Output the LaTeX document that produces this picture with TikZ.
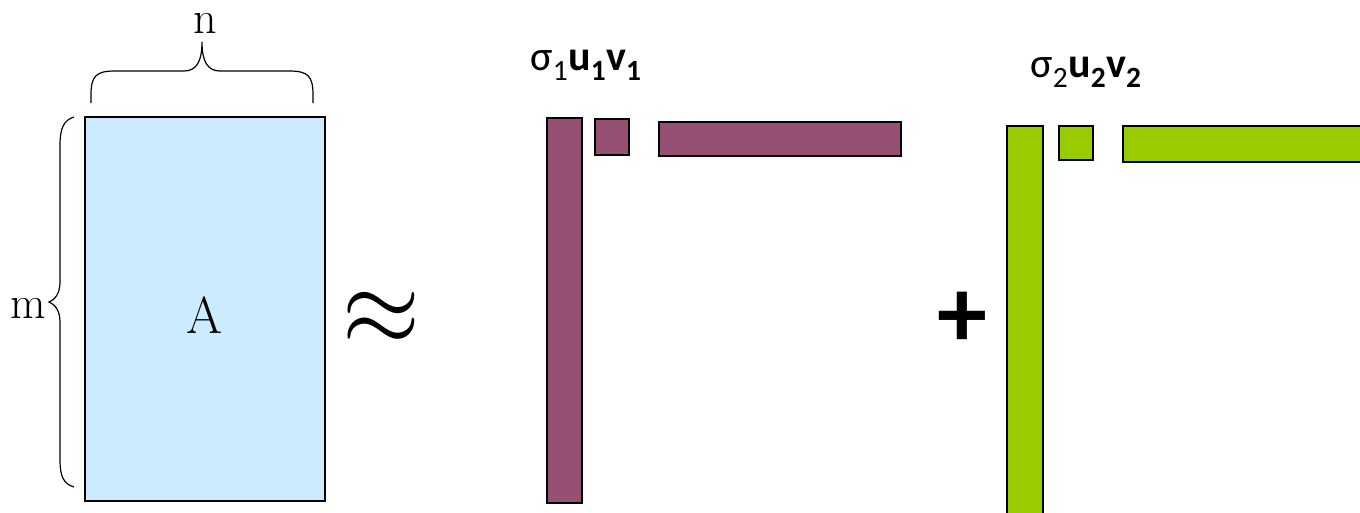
\documentclass[tikz,border=0pt]{standalone}
\usepackage{fontspec}
\newfontfamily\carl{Carlito}
\definecolor{matblue}{RGB}{204,235,255}
\definecolor{barpurple}{RGB}{150,80,115}
\definecolor{bargreen}{RGB}{153,204,0}
\begin{document}
\begin{tikzpicture}[x=1pt,y=-1pt,
  bar/.style={draw=black,line width=2.2pt,inner sep=0pt,outer sep=0pt,anchor=north west},
  mat/.style={draw=black,line width=1.8pt,fill=matblue,inner sep=0pt,outer sep=0pt,anchor=north west},
  brace/.style={draw=black,line width=1.2pt},
  serif/.style={font=\fontsize{46}{50}\selectfont,inner sep=0pt},
  lab/.style={font=\carl\fontsize{42}{46}\selectfont,inner sep=0pt,anchor=base}
]
\useasboundingbox (0,0) rectangle (1360,512);
% matrix A
\node[mat,minimum width=240pt,minimum height=384pt] (A) at (85,117) {};
\node[font=\fontsize{52}{56}\selectfont,inner sep=0pt] (Alab) at (205,315) {A};
% braces
\draw[brace] (91,103) -- (91,95) .. controls (91,76) and (96,71) .. (115,71)
  -- (184,71) .. controls (196,71) and (202,62) .. (202,42)
  .. controls (202,62) and (208,71) .. (220,71) -- (289,71)
  .. controls (308,71) and (313,76) .. (313,95) -- (313,103);
\draw[brace] (74,117) .. controls (64,120) and (60,128) .. (60,145)
  -- (60,282) .. controls (60,293) and (55,300) .. (49,302)
  .. controls (55,304) and (60,311) .. (60,322) -- (60,460)
  .. controls (60,477) and (64,484) .. (74,487);
\node[serif,anchor=base] (n) at (205,33) {n};
\node[serif,anchor=base] (m) at (28,318) {m};
% approx
\node[inner sep=0pt,xscale=10,yscale=11] (approx) at (381,319) {$\approx$};
% first term
\node[bar,fill=barpurple,minimum width=35pt,minimum height=385pt] (u1) at (547,118) {};
\node[bar,fill=barpurple,minimum width=34pt,minimum height=36pt] (s1) at (595,119) {};
\node[bar,fill=barpurple,minimum width=242pt,minimum height=34pt] (v1) at (659,122) {};
\node[lab] (l1) at (586,70) {σ\textsubscript{1}\textbf{u\textsubscript{1}v\textsubscript{1}}};
% plus
\node[font=\carl\bfseries\fontsize{100}{100}\selectfont,inner sep=0pt] (plus) at (962,320) {+};
% second term
\node[bar,fill=bargreen,minimum width=36pt,minimum height=390pt] (u2) at (1007,126) {};
\node[bar,fill=bargreen,minimum width=34pt,minimum height=34pt] (s2) at (1059,126) {};
\node[bar,fill=bargreen,minimum width=250pt,minimum height=36pt] (v2) at (1123,126) {};
\node[lab] (l2) at (1086,77) {σ\textsubscript{2}\textbf{u\textsubscript{2}v\textsubscript{2}}};
\end{tikzpicture}
\end{document}
